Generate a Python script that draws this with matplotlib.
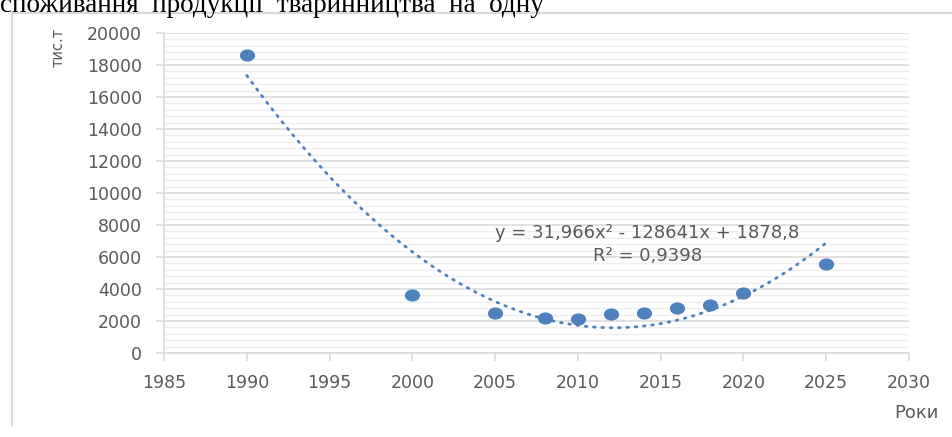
import numpy as np
import matplotlib
matplotlib.use("Agg")
import matplotlib.pyplot as plt
from matplotlib.lines import Line2D
from matplotlib.ticker import MultipleLocator
from matplotlib.path import Path
from matplotlib.transforms import Affine2D

years = [1990, 2000, 2005, 2008, 2010, 2012, 2014, 2016, 2018, 2020, 2025]
values = [18600, 3600, 2520, 2170, 2150, 2460, 2520, 2830, 2990, 3780, 5550]
x_ticks = [1985, 1990, 1995, 2000, 2005, 2010, 2015, 2020, 2025, 2030]
y_ticks = [0, 2000, 4000, 6000, 8000, 10000, 12000, 14000, 16000, 18000, 20000]
equation = "y = 31,966x² - 128641x + 1878,8"
r2_text = "R² = 0,9398"
title_text = "споживання  продукції  тваринництва  на  одну"

W, H = 953, 437
fig = plt.figure(figsize=(W / 100, H / 100), dpi=100)
ax = fig.add_axes([164 / W, 1 - 353 / H, (909 - 164) / W, (353 - 33) / H])

blue = "#4F81BD"
gray_txt = "#595959"
grid_c = "#d9d9d9"

# trend
coef = np.polyfit(years, values, 2)
xt = np.linspace(years[0], years[-1], 300)
ax.plot(xt, np.polyval(coef, xt), color=blue, lw=2.0, linestyle=(0, (0.6, 2.4)),
        dash_capstyle="round", zorder=2)
ell = Path.unit_circle().transformed(Affine2D().scale(1.25, 1.0))
ax.scatter(years, values, s=120, marker=ell, color=blue, zorder=3, linewidths=0)

ax.set_xlim(1985, 2030)
ax.set_ylim(0, 20000)
ax.set_xticks(x_ticks)
ax.set_yticks(y_ticks)
ax.yaxis.set_minor_locator(MultipleLocator(400))
ax.grid(axis="y", which="major", color=grid_c, lw=1.1, zorder=0)
ax.grid(axis="y", which="minor", color="#efefef", lw=1.0, zorder=0)
ax.set_axisbelow(True)
for s in ["top", "right"]:
    ax.spines[s].set_visible(False)
for s in ["left", "bottom"]:
    ax.spines[s].set_color(grid_c)
    ax.spines[s].set_linewidth(1.1)
ax.tick_params(axis="both", which="major", direction="out", length=6, color=grid_c,
               labelsize=12.5, labelcolor=gray_txt, width=1.1)
ax.tick_params(axis="y", which="minor", length=0)
ax.tick_params(axis="x", pad=9)
ax.tick_params(axis="y", pad=10)

ax.text(2014.2, 7500, equation, ha="center", va="center", fontsize=13, color=gray_txt)
ax.text(2014.2, 6050, r2_text, ha="center", va="center", fontsize=13, color=gray_txt)

fig.text(58 / W, 1 - 47 / H, "тис.т", rotation=90, ha="center", va="center",
         fontsize=10.5, color=gray_txt)
fig.text(916 / W, 1 - 413 / H, "Роки", ha="center", va="center",
         fontsize=13, color=gray_txt)

# title fragment clipped at top
fig.text(0, 1 - 11.5 / H, title_text, ha="left", va="baseline", fontsize=19.5,
         family="Liberation Serif", color="black")

# frame lines
fig.add_artist(Line2D([12 / W, 1], [1 - 12.5 / H, 1 - 12.5 / H], color="#d9d9d9", lw=1.5,
                      transform=fig.transFigure))
fig.add_artist(Line2D([12.5 / W, 12.5 / W], [1 - 12.5 / H, 1 - 425 / H], color="#d9d9d9", lw=1.5,
                      transform=fig.transFigure))

fig.savefig("out.png", dpi=100)
